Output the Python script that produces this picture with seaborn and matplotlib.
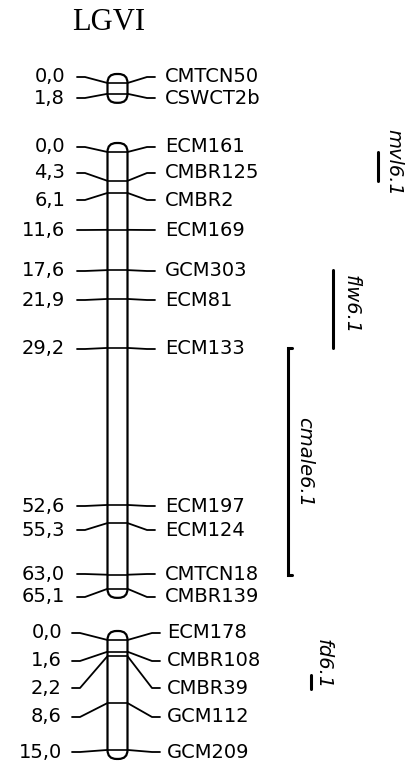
import matplotlib
matplotlib.use("Agg")
import matplotlib.pyplot as plt
from matplotlib.patches import FancyBboxPatch
import seaborn as sns
import pandas as pd

# ---------------- data ----------------
seg1_markers = ["CMTCN50", "CSWCT2b"]
seg1_cm = [0.0, 1.8]
seg2_markers = ["ECM161", "CMBR125", "CMBR2", "ECM169", "GCM303", "ECM81",
                "ECM133", "ECM197", "ECM124", "CMTCN18", "CMBR139"]
seg2_cm = [0.0, 4.3, 6.1, 11.6, 17.6, 21.9, 29.2, 52.6, 55.3, 63.0, 65.1]
seg3_markers = ["ECM178", "CMBR108", "CMBR39", "GCM112", "GCM209"]
seg3_cm = [0.0, 1.6, 2.2, 8.6, 15.0]

qtl_names = ["mvl6.1", "flw6.1", "cmale6.1", "fd6.1"]
qtl_segment = [1, 1, 1, 2]
qtl_start = [0.0, 17.6, 29.2, 4.8]
qtl_end = [4.3, 29.2, 63.0, 6.7]

title = "LGVI"

# ---------------- layout (pixels) ----------------
W, H = 409, 770
seg_markers = [seg1_markers, seg2_markers, seg3_markers]
seg_cm = [seg1_cm, seg2_cm, seg3_cm]
seg_zero_y = [83, 152, 640]
seg_scale = [6.0, 6.71, 7.33]
seg_label_y = [[77, 98],
               [147, 173, 200, 230, 271, 300, 349, 506, 530, 574, 597],
               [633, 661, 688, 717, 752]]
seg_left_end = [77, 77, 72]
seg_right_end = [155, 155, 160]
seg_left_text = [65, 65, 62]
seg_right_text = [165, 165, 167]
chr_x0, chr_x1 = 107.5, 127.5
cap = 9

qtl_bar_x = [378, 333, 288, 311]
qtl_text_xy = [(394, 162), (351, 305), (305, 462), (323, 664)]
qtl_bracket = [False, False, True, False]

sns.set_style("white")
plt.rcParams["font.family"] = ["DejaVu Sans"]

fig = plt.figure(figsize=(W / 100, H / 100), dpi=100)
ax = fig.add_axes([0, 0, 1, 1])

def ypos(seg, cm):
    return seg_zero_y[seg] + cm * seg_scale[seg]

rows = []
uid = 0
for s in range(3):
    cms = seg_cm[s]
    y_top = ypos(s, cms[0])
    y_bot = ypos(s, cms[-1])
    patch = FancyBboxPatch((chr_x0, y_top - cap), chr_x1 - chr_x0,
                           (y_bot - y_top) + 2 * cap,
                           boxstyle=f"round,pad=0,rounding_size={cap}",
                           fc="white", ec="black", lw=1.6, zorder=2)
    ax.add_patch(patch)
    ys = [ypos(s, c) for c in cms]
    ax.hlines(ys, chr_x0, chr_x1, color="black", lw=1.2, zorder=3)
    for i, (name, c) in enumerate(zip(seg_markers[s], cms)):
        my = ys[i]
        ly = seg_label_y[s][i]
        xl = seg_left_end[s]
        xr = seg_right_end[s]
        for x, y in [(xl, ly), (xl + 8, ly), (chr_x0, my)]:
            rows.append({"x": x, "y": y, "unit": uid})
        uid += 1
        for x, y in [(chr_x1, my), (xr - 8, ly), (xr, ly)]:
            rows.append({"x": x, "y": y, "unit": uid})
        uid += 1
        ax.text(seg_left_text[s], ly, f"{c:.1f}".replace(".", ","),
                ha="right", va="center", fontsize=14, color="black")
        ax.text(seg_right_text[s], ly, name, ha="left", va="center",
                fontsize=14, color="black")

df = pd.DataFrame(rows)
sns.lineplot(data=df, x="x", y="y", units="unit", estimator=None, sort=False,
             color="black", lw=1.3, legend=False, ax=ax, zorder=1)

# QTL bars
for k, name in enumerate(qtl_names):
    s = qtl_segment[k]
    y0, y1 = ypos(s, qtl_start[k]), ypos(s, qtl_end[k])
    bx = qtl_bar_x[k]
    if qtl_bracket[k]:
        ax.plot([bx + 4, bx, bx, bx + 4], [y0, y0, y1, y1], color="black",
                lw=2.2, solid_joinstyle="miter")
    else:
        ax.plot([bx, bx], [y0, y1], color="black", lw=2.2)
    tx, ty = qtl_text_xy[k]
    ax.text(tx, ty, name, rotation=270, ha="center", va="center",
            fontsize=14, style="italic", color="black")

ax.text(109, 22, title, ha="center", va="center", fontsize=22,
        family=["Liberation Serif"], color="black")

ax.set_xlim(0, W)
ax.set_ylim(H, 0)
ax.set_xlabel("")
ax.set_ylabel("")
ax.axis("off")

fig.savefig("out.png", dpi=100)
